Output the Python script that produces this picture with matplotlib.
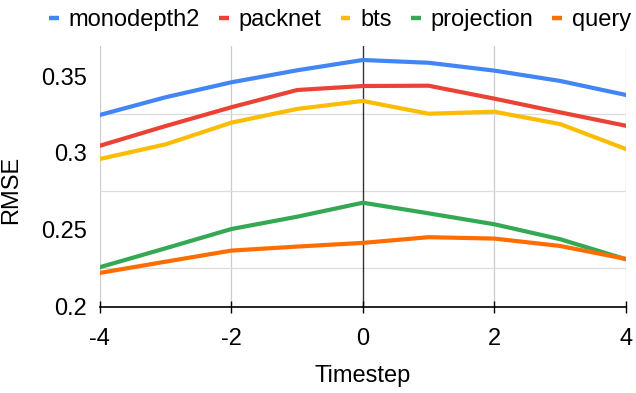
import matplotlib
matplotlib.use("Agg")
import matplotlib.pyplot as plt
from matplotlib.lines import Line2D

plt.rcParams["font.family"] = ["Liberation Sans", "DejaVu Sans"]
plt.rcParams["axes.unicode_minus"] = False

# values
timesteps = [-4, -3, -2, -1, 0, 1, 2, 3, 4]
monodepth2 = [0.3247, 0.3362, 0.3459, 0.3537, 0.3604, 0.3586, 0.3535, 0.3468, 0.3377]
packnet = [0.3047, 0.3175, 0.3297, 0.3409, 0.3435, 0.3437, 0.3353, 0.3264, 0.3177]
bts = [0.2961, 0.3056, 0.3197, 0.3286, 0.3338, 0.3255, 0.3268, 0.3188, 0.3026]
projection = [0.2258, 0.2381, 0.2506, 0.2586, 0.2677, 0.2608, 0.2537, 0.2440, 0.2310]
query = [0.2221, 0.2294, 0.2366, 0.2392, 0.2416, 0.2453, 0.2444, 0.2396, 0.2312]

series = [
    ("monodepth2", monodepth2, "#4285F4"),
    ("packnet", packnet, "#EA4335"),
    ("bts", bts, "#FBBC04"),
    ("projection", projection, "#34A853"),
    ("query", query, "#FF6D01"),
]

fig = plt.figure(figsize=(6.36, 3.93), dpi=100)
ax = fig.add_axes([0.157, 0.219, 0.827, 0.664])

# faint grid: vertical at -4,-2,2,4; horizontal only between labelled ticks
for x in [-4, -2, 2, 4]:
    ax.axvline(x, color="#cccccc", lw=0.9, zorder=0)
for y in [0.225, 0.275, 0.325]:
    ax.axhline(y, color="#dddddd", lw=0.9, zorder=0)
ax.axvline(0, color="#333333", lw=1.0, zorder=1)

for name, vals, color in series:
    ax.plot(timesteps, vals, color=color, lw=3.0, label=name, zorder=3,
            solid_joinstyle="round")

ax.set_xlim(-4, 4)
ax.set_ylim(0.2, 0.3695)
ax.set_xticks([-4, -2, 0, 2, 4])
ax.set_yticks([0.2, 0.25, 0.3, 0.35])
ax.set_yticklabels(["0.2", "0.25", "0.3", "0.35"])
ax.tick_params(axis="y", length=0, labelsize=17, pad=9)
ax.tick_params(axis="x", direction="inout", length=8.6, width=1, color="black",
               labelsize=17, pad=11)
for side in ["top", "right", "left"]:
    ax.spines[side].set_visible(False)
ax.spines["bottom"].set_color("black")
ax.spines["bottom"].set_linewidth(1.2)

ax.set_xlabel("Timestep", fontsize=17, labelpad=10.5)
ax.set_ylabel("RMSE", fontsize=17)
ax.yaxis.set_label_coords(-0.148, 0.448)

handles = [Line2D([], [], color=c, lw=3.2, solid_capstyle="butt") for _, _, c in series]
fig.legend(handles, [n for n, _, _ in series], loc="upper center",
           bbox_to_anchor=(0.5346, 1.03), ncol=5, frameon=False, fontsize=17,
           handlelength=0.42, handletextpad=0.42, columnspacing=0.8)

fig.savefig("out.png", dpi=100)
